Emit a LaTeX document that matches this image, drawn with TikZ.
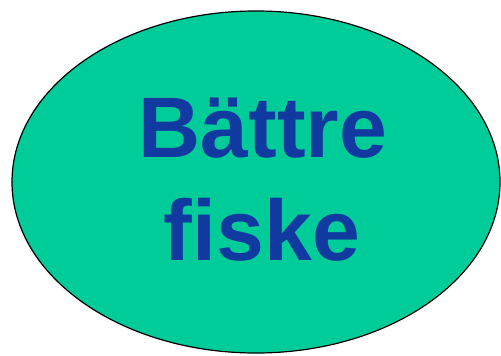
\documentclass[tikz,border=0pt]{standalone}
\usepackage{fontspec}
\setmainfont{Liberation Sans}
\usetikzlibrary{shapes.geometric}
\definecolor{blobfill}{RGB}{0,204,153}
\definecolor{blobtext}{RGB}{16,58,160}
\tikzset{
  blob/.style={ellipse, draw=black, line width=1.2bp, fill=blobfill, minimum width=488bp, minimum height=342bp, inner sep=0pt},
  bigword/.style={text=blobtext, font=\fontsize{86bp}{103bp}\selectfont\bfseries, anchor=base, inner sep=0pt}
}
\begin{document}
\begin{tikzpicture}[x=1bp,y=1bp]
\useasboundingbox (0,0) rectangle (501,355);
\node[blob] (e) at (256,173) {};
\node[bigword] (l1) at (263,198) {Bättre};
\node[bigword] (l2) at (262,95) {fiske};
\end{tikzpicture}
\end{document}
